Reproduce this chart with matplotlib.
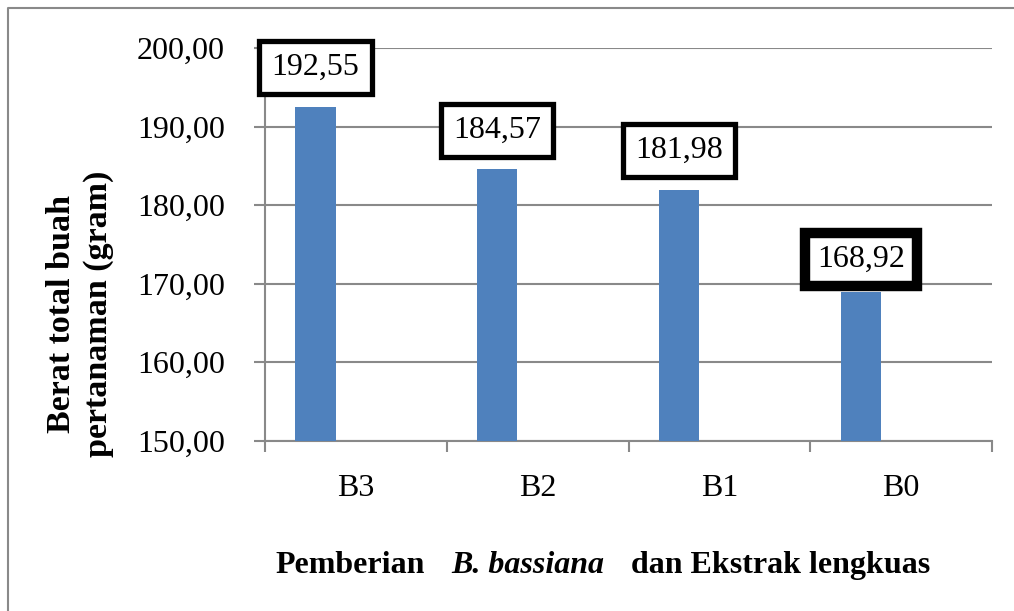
"""Berat total buah pertanaman per perlakuan B. bassiana dan ekstrak lengkuas."""
import numpy as np
import matplotlib
matplotlib.use("Agg")
import matplotlib.pyplot as plt
from matplotlib.lines import Line2D
from matplotlib.ticker import FuncFormatter, FixedLocator

categories = ["B3", "B2", "B1", "B0"]
berat = [192.55, 184.57, 181.98, 168.92]
y_ticks = [150, 160, 170, 180, 190, 200]

BAR_COLOR = "#4F81BD"
GRID_COLOR = "#898989"
FONT = "Liberation Serif"
FS = 23

# label box styling (B0 has a heavier frame in the original)
label_offsets = [28, 28, 28, 23.5]
label_lw = [3.8, 3.8, 3.8, 7.5]


def comma(v, _pos=None):
    return f"{v:.2f}".replace(".", ",")


plt.rcParams["font.family"] = [FONT, "DejaVu Serif"]

fig = plt.figure(figsize=(10.14, 6.11), dpi=100)
ax = fig.add_axes([265 / 1014, 1 - 440.7 / 611, (992 - 265) / 1014, (440.7 - 48) / 611])

x = np.arange(len(categories))
bw = 1 / 4.5
ax.bar(x - bw, berat, width=bw, color=BAR_COLOR, zorder=3)

ax.set_xlim(-0.5, len(categories) - 0.5)
ax.set_ylim(y_ticks[0], y_ticks[-1])
ax.set_yticks(y_ticks)
ax.yaxis.set_major_formatter(FuncFormatter(comma))
ax.yaxis.grid(True, color=GRID_COLOR, linewidth=1.5, zorder=0)
ax.set_axisbelow(True)

ax.set_xticks(x)
ax.set_xticklabels(categories)
ax.xaxis.set_minor_locator(FixedLocator(np.arange(-0.5, len(categories), 1.0)))
ax.tick_params(axis="x", which="major", length=0, pad=24, labelsize=FS)
ax.tick_params(axis="x", which="minor", length=8, width=1.5, color=GRID_COLOR, direction="out")
ax.tick_params(axis="y", length=8, width=1.5, color=GRID_COLOR, pad=21, labelsize=FS)

for side in ("top", "right"):
    ax.spines[side].set_visible(False)
for side in ("left", "bottom"):
    ax.spines[side].set_color(GRID_COLOR)
    ax.spines[side].set_linewidth(1.5)

for xi, v, off, lw in zip(x, berat, label_offsets, label_lw):
    ax.annotate(comma(v), xy=(xi - bw, v), xytext=(0, off), textcoords="offset points",
                ha="center", va="center", fontsize=FS, zorder=5,
                bbox=dict(boxstyle="square,pad=0.38", fc="white", ec="black", lw=lw))

# y label (two lines, bold)
fig.text(80 / 1014, 1 - 314 / 611, "Berat total buah\npertanaman (gram)", rotation=90,
         ha="center", va="center", multialignment="center", fontsize=24.5,
         fontweight="bold", linespacing=1.25)

# x label built from pieces so the species name can be italic
fig.canvas.draw()
renderer = fig.canvas.get_renderer()
pieces = [("Pemberian", "normal"), ("B. bassiana", "italic"), ("dan Ekstrak lengkuas", "normal")]
gap = 27 / 1014
xpos = 275 / 1014
ybase = 1 - 573 / 611
for txt, style in pieces:
    t = fig.text(xpos, ybase, txt, fontsize=FS, fontweight="bold", fontstyle=style,
                 ha="left", va="baseline")
    bb = t.get_window_extent(renderer)
    xpos += bb.width / fig.bbox.width + gap

# partial outer frame (top and left edges)
fig.add_artist(Line2D([8 / 1014, 8 / 1014, 1.0], [0.0, 1 - 8 / 611, 1 - 8 / 611],
                      transform=fig.transFigure, color=GRID_COLOR, linewidth=1.5))

fig.savefig("out.png", dpi=100)
